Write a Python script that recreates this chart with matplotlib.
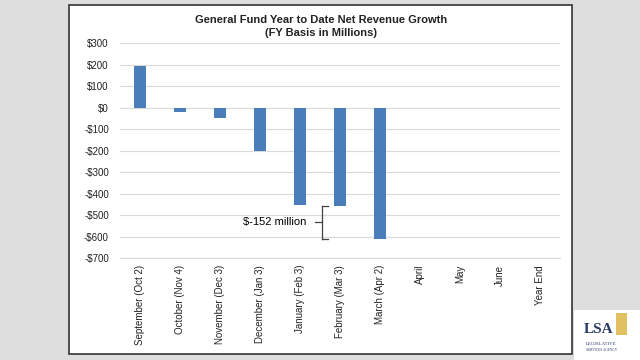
import matplotlib.pyplot as plt
import matplotlib.patches as patches
import numpy as np

plt.rcParams['font.family'] = ['Liberation Sans', 'DejaVu Sans']

months = ["September (Oct 2)", "October (Nov 4)", "November (Dec 3)",
          "December (Jan 3)", "January (Feb 3)", "February (Mar 3)",
          "March (Apr 2)", "April", "May", "June", "Year End"]
growth = [195, -20, -50, -200, -455, -458, -610, np.nan, np.nan, np.nan, np.nan]
y_ticks = [300, 200, 100, 0, -100, -200, -300, -400, -500, -600, -700]
gap_label = "$-152 million"


def money(v):
    return "$%d" % v if v >= 0 else "-$%d" % abs(v)


fig = plt.figure(figsize=(6.4, 3.6), dpi=100, facecolor='#dedede')

# white slide panel with dark border
fig.patches.append(patches.Rectangle((0.108, 0.017), 0.786, 0.969, transform=fig.transFigure,
                                     facecolor='white', edgecolor='#333333', linewidth=1.2, zorder=0))
# white logo area
fig.patches.append(patches.Rectangle((0.897, 0.0), 0.103, 0.14, transform=fig.transFigure,
                                     facecolor='white', edgecolor='none', zorder=0))

ax = fig.add_axes([0.1875, 0.2833, 0.6875, 0.5972])
ax.set_zorder(2)
ax.set_facecolor('none')
x = np.arange(len(months))
ax.bar(x, growth, width=0.3, color='#4a7ebb', zorder=3)

ax.set_xlim(-0.5, len(months) - 0.5)
ax.set_ylim(-700, 300)
ax.set_yticks(y_ticks)
ax.set_yticklabels([money(v) for v in y_ticks], fontsize=7, color='#222222')
ax.set_xticks(x)
ax.set_xticklabels(months, rotation=90, fontsize=7, va='top', color='#222222')
ax.tick_params(axis='both', length=0)
ax.tick_params(axis='y', pad=8)
ax.tick_params(axis='x', pad=5)
ax.grid(axis='y', color='#d9d9d9', linewidth=0.8, zorder=0)
for s in ['top', 'right', 'left']:
    ax.spines[s].set_visible(False)
ax.spines['bottom'].set_color('#d9d9d9')

# bracket showing the Feb -> Mar drop
bx = 4.55
y_top, y_bot = growth[5], growth[6]
ax.plot([bx, bx], [y_top, y_bot], color='#444444', linewidth=0.9, zorder=4)
ax.plot([bx, bx + 0.15], [y_top, y_top], color='#444444', linewidth=0.9, zorder=4)
ax.plot([bx, bx + 0.15], [y_bot, y_bot], color='#444444', linewidth=0.9, zorder=4)
y_mid = (y_top + y_bot) / 2
ax.plot([bx - 0.17, bx], [y_mid, y_mid], color='#444444', linewidth=0.9, zorder=4)
ax.text(bx - 0.4, y_mid, gap_label, fontsize=8, ha='right', va='center', zorder=4)

fig.text(0.502, 0.945, "General Fund Year to Date Net Revenue Growth",
         fontsize=8, fontweight='bold', ha='center', va='center', color='#222222')
fig.text(0.502, 0.908, "(FY Basis in Millions)",
         fontsize=8, fontweight='bold', ha='center', va='center', color='#222222')

# logo
fig.text(0.935, 0.085, "LSA", fontsize=11, fontweight='bold', family='Liberation Serif',
         color='#2b3a67', ha='center', va='center')
fig.patches.append(patches.Rectangle((0.962, 0.07), 0.018, 0.06, transform=fig.transFigure,
                                     facecolor='#e0c060', edgecolor='none'))
fig.text(0.94, 0.045, "LEGISLATIVE", fontsize=3.5, family='Liberation Serif',
         color='#2b3a67', ha='center', va='center')
fig.text(0.94, 0.027, "SERVICES AGENCY", fontsize=2.5, family='Liberation Serif',
         color='#2b3a67', ha='center', va='center')

fig.savefig("out.png", dpi=100, facecolor=fig.get_facecolor())
